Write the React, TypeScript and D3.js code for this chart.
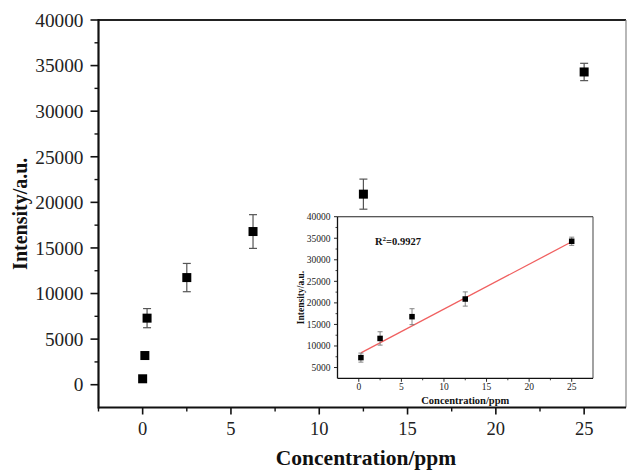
import React from "react";
import * as d3 from "d3";

// Main data (concentration ppm vs intensity)
const concentrations = [0, 0.125, 0.25, 2.5, 6.25, 12.5, 25];
const intensities = [650, 3200, 7300, 11750, 16800, 20900, 34300];
const errors = [0, 0, 1050, 1550, 1850, 1650, 950];

// Inset data (linear range)
const insetConc = [0.25, 2.5, 6.25, 12.5, 25];
const insetInt = [7300, 11750, 16800, 20900, 34300];
const insetErr = [1050, 1550, 1850, 1650, 950];
const fitSlope = 1042;
const fitIntercept = 8130;
const fitRange = [0.25, 25];
const r2Label = "0.9927";

const mainXTicks = [0, 5, 10, 15, 20, 25];
const mainXMinor = [-2.5, 2.5, 7.5, 12.5, 17.5, 22.5];
const mainYTicks = [0, 5000, 10000, 15000, 20000, 25000, 30000, 35000, 40000];
const mainYMinor = [2500, 7500, 12500, 17500, 22500, 27500, 32500, 37500];
const insetXTicks = [0, 5, 10, 15, 20, 25];
const insetXMinor = [2.5, 7.5, 12.5, 17.5, 22.5];
const insetYTicks = [5000, 10000, 15000, 20000, 25000, 30000, 35000, 40000];
const insetYMinor = [7500, 12500, 17500, 22500, 27500, 32500, 37500];

const SERIF = "'Liberation Serif', 'Times New Roman', serif";

export default function App() {
  const W = 627, H = 470;
  const m = { l: 98.5, r: 626, t: 20, b: 407.5 };
  const x = d3.scaleLinear().domain([-2.5, 27.37]).range([m.l, m.r]);
  const y = d3.scaleLinear().domain([-2500, 40000]).range([m.b, m.t]);

  const ins = { l: 337.5, r: 593, t: 216.7, b: 378.3 };
  const ix = d3.scaleLinear().domain([-2.5, 27.5]).range([ins.l, ins.r]);
  const iy = d3.scaleLinear().domain([2500, 40000]).range([ins.b, ins.t]);

  const ms = 9;
  const ims = 5.5;
  const fitLine = d3.line<number>().x((c) => ix(c)).y((c) => iy(fitSlope * c + fitIntercept));

  return (
    <svg width={W} height={H} style={{ position: "absolute", left: 0, top: 0, background: "#fff" }} fontFamily={SERIF}>
      <rect width={W} height={H} fill="#fff" />
      {/* main frame */}
      <line x1={m.l} x2={m.r} y1={m.t} y2={m.t} stroke="#222" strokeWidth={2} />
      <line x1={m.r} x2={m.r} y1={m.t} y2={m.b} stroke="#888" strokeWidth={1.2} />
      <line x1={m.l} x2={m.r} y1={m.b} y2={m.b} stroke="#111" strokeWidth={2.2} />
      <line x1={m.l} x2={m.l} y1={m.t - 1} y2={m.b + 1} stroke="#111" strokeWidth={2.2} />
      {/* main y ticks */}
      {mainYTicks.map((t) => (
        <g key={"yt" + t}>
          <line x1={m.l - 8} x2={m.l} y1={y(t)} y2={y(t)} stroke="#111" strokeWidth={1.6} />
          <text x={83.5} y={y(t)} dy="0.35em" textAnchor="end" fontSize={19.3} fill="#222">{t}</text>
        </g>
      ))}
      {mainYMinor.map((t) => (
        <line key={"ym" + t} x1={m.l - 4} x2={m.l} y1={y(t)} y2={y(t)} stroke="#111" strokeWidth={1.4} />
      ))}
      {/* main x ticks */}
      {mainXTicks.map((t) => (
        <g key={"xt" + t}>
          <line x1={x(t)} x2={x(t)} y1={m.b} y2={m.b + 7} stroke="#111" strokeWidth={1.6} />
          <text x={x(t)} y={435} textAnchor="middle" fontSize={18.5} fill="#222">{t}</text>
        </g>
      ))}
      {mainXMinor.map((t) => (
        <line key={"xm" + t} x1={x(t)} x2={x(t)} y1={m.b} y2={m.b + 4} stroke="#111" strokeWidth={1.4} />
      ))}
      {/* axis titles */}
      <text x={366} y={465} textAnchor="middle" fontSize={21.5} fontWeight="bold" fill="#111">Concentration/ppm</text>
      <text transform={`translate(27,${(m.t + m.b) / 2}) rotate(-90)`} textAnchor="middle" fontSize={20} fontWeight="bold" fill="#111">Intensity/a.u.</text>
      {/* main error bars */}
      {concentrations.map((c, i) =>
        errors[i] > 0 ? (
          <g key={"eb" + i} stroke="#555" strokeWidth={1.2}>
            <line x1={x(c)} x2={x(c)} y1={y(intensities[i] + errors[i])} y2={y(intensities[i] - errors[i])} />
            <line x1={x(c) - 4} x2={x(c) + 4} y1={y(intensities[i] + errors[i])} y2={y(intensities[i] + errors[i])} />
            <line x1={x(c) - 4} x2={x(c) + 4} y1={y(intensities[i] - errors[i])} y2={y(intensities[i] - errors[i])} />
          </g>
        ) : null
      )}
      {concentrations.map((c, i) => (
        <rect key={"pt" + i} x={x(c) - ms / 2} y={y(intensities[i]) - ms / 2} width={ms} height={ms} fill="#000" />
      ))}

      {/* inset */}
      <rect x={ins.l} y={ins.t} width={ins.r - ins.l} height={ins.b - ins.t} fill="#fff" stroke="none" />
      <line x1={ins.l} x2={ins.r} y1={ins.t} y2={ins.t} stroke="#222" strokeWidth={1.1} />
      <line x1={ins.r} x2={ins.r} y1={ins.t} y2={ins.b} stroke="#555" strokeWidth={1.1} />
      <line x1={ins.l} x2={ins.r} y1={ins.b} y2={ins.b} stroke="#111" strokeWidth={1.3} />
      <line x1={ins.l} x2={ins.l} y1={ins.t} y2={ins.b} stroke="#111" strokeWidth={1.3} />
      {insetYTicks.map((t) => (
        <g key={"iyt" + t}>
          <line x1={ins.l - 3.5} x2={ins.l} y1={iy(t)} y2={iy(t)} stroke="#111" strokeWidth={0.9} />
          <text x={330.5} y={iy(t)} dy="0.35em" textAnchor="end" fontSize={9.5} fill="#222">{t}</text>
        </g>
      ))}
      {insetYMinor.map((t) => (
        <line key={"iym" + t} x1={ins.l - 2} x2={ins.l} y1={iy(t)} y2={iy(t)} stroke="#111" strokeWidth={0.8} />
      ))}
      {insetXTicks.map((t) => (
        <g key={"ixt" + t}>
          <line x1={ix(t)} x2={ix(t)} y1={ins.b} y2={ins.b + 3.5} stroke="#111" strokeWidth={0.9} />
          <text x={ix(t)} y={390} textAnchor="middle" fontSize={9.5} fill="#222">{t}</text>
        </g>
      ))}
      {insetXMinor.map((t) => (
        <line key={"ixm" + t} x1={ix(t)} x2={ix(t)} y1={ins.b} y2={ins.b + 2} stroke="#111" strokeWidth={0.8} />
      ))}
      <text x={(ins.l + ins.r) / 2} y={404} textAnchor="middle" fontSize={10.5} fontWeight="bold" fill="#111">Concentration/ppm</text>
      <text transform={`translate(303.5,${(ins.t + ins.b) / 2}) rotate(-90)`} textAnchor="middle" fontSize={9.5} fontWeight="bold" fill="#111">Intensity/a.u.</text>
      <text x={375} y={245} fontSize={10.5} fontWeight="bold" fill="#111">
        R<tspan dy={-4} fontSize={7}>2</tspan><tspan dy={4}>={r2Label}</tspan>
      </text>
      <path d={fitLine(fitRange) || ""} fill="none" stroke="#f06060" strokeWidth={1.3} />
      {insetConc.map((c, i) => (
        <g key={"ieb" + i} stroke="#777" strokeWidth={0.9}>
          <line x1={ix(c)} x2={ix(c)} y1={iy(insetInt[i] + insetErr[i])} y2={iy(insetInt[i] - insetErr[i])} />
          <line x1={ix(c) - 2.5} x2={ix(c) + 2.5} y1={iy(insetInt[i] + insetErr[i])} y2={iy(insetInt[i] + insetErr[i])} />
          <line x1={ix(c) - 2.5} x2={ix(c) + 2.5} y1={iy(insetInt[i] - insetErr[i])} y2={iy(insetInt[i] - insetErr[i])} />
        </g>
      ))}
      {insetConc.map((c, i) => (
        <rect key={"ipt" + i} x={ix(c) - ims / 2} y={iy(insetInt[i]) - ims / 2} width={ims} height={ims} fill="#000" />
      ))}
    </svg>
  );
}
